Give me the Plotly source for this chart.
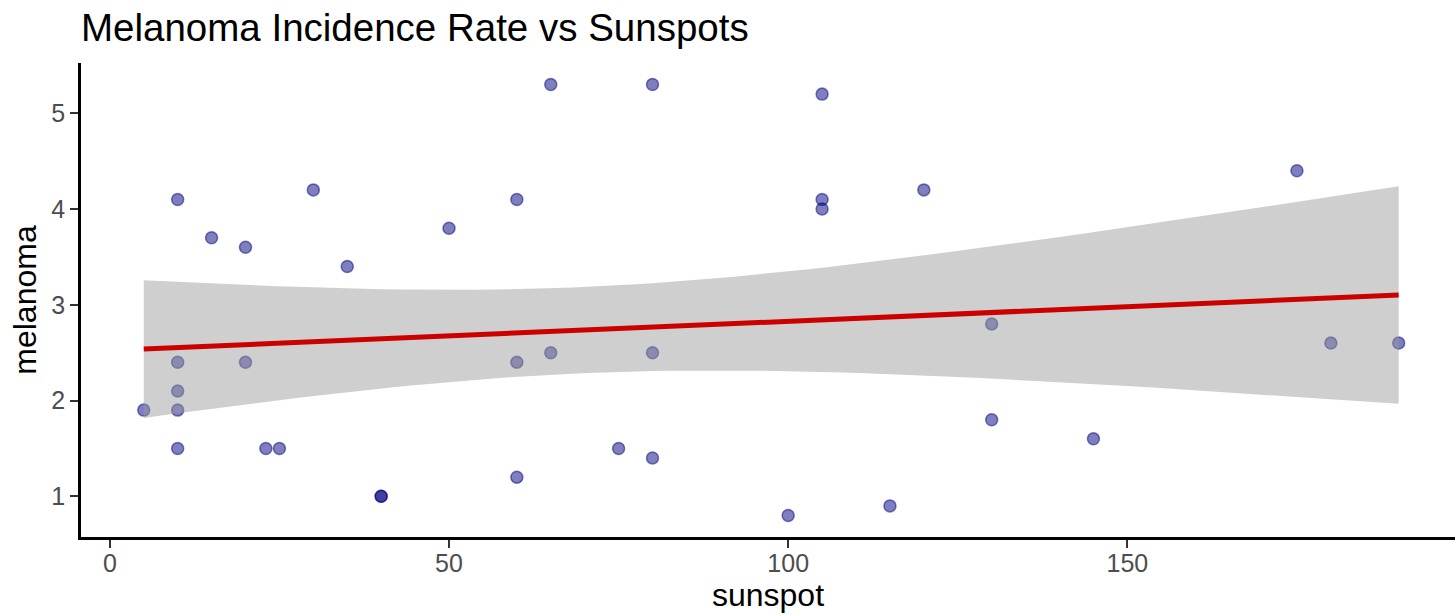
import numpy as np
import plotly.graph_objects as go

sunspot = [5, 10, 10, 10, 10, 10, 15, 20, 20, 23, 25, 30, 35, 40, 40, 50,
           60, 60, 60, 65, 65, 75, 80, 80, 80, 100, 105, 105, 105, 115, 120,
           130, 130, 145, 175, 180, 190]
melanoma = [1.9, 4.1, 2.4, 2.1, 1.9, 1.5, 3.7, 3.6, 2.4, 1.5, 1.5, 4.2, 3.4, 1.0, 1.0, 3.8,
            4.1, 2.4, 1.2, 5.3, 2.5, 1.5, 5.3, 2.5, 1.4, 0.8, 5.2, 4.1, 4.0, 0.9, 4.2,
            2.8, 1.8, 1.6, 4.4, 2.6, 2.6]
x_ticks = [0, 50, 100, 150]
y_ticks = [1, 2, 3, 4, 5]

# linear model fit with 95% confidence band (as geom_smooth(method="lm"))
x = np.array(sunspot, dtype=float)
y = np.array(melanoma, dtype=float)
n = len(x)
slope, intercept = np.polyfit(x, y, 1)
resid = y - (intercept + slope * x)
s = np.sqrt(np.sum(resid ** 2) / (n - 2))
t_crit = 2.0301  # t quantile 0.975, df = 35
xg = np.linspace(x.min(), x.max(), 80)
yg = intercept + slope * xg
se = s * np.sqrt(1.0 / n + (xg - x.mean()) ** 2 / np.sum((x - x.mean()) ** 2))
lo = yg - t_crit * se
hi = yg + t_crit * se

fig = go.Figure()
fig.add_trace(go.Scatter(
    x=sunspot, y=melanoma, mode="markers",
    marker=dict(size=12, color="rgba(0,0,128,0.5)",
                line=dict(color="rgba(0,0,128,0.5)", width=1.5)),
    showlegend=False, hoverinfo="skip"))
fig.add_trace(go.Scatter(
    x=np.concatenate([xg, xg[::-1]]), y=np.concatenate([hi, lo[::-1]]),
    fill="toself", fillcolor="rgba(153,153,153,0.47)", mode="lines",
    line=dict(width=0), showlegend=False, hoverinfo="skip"))
fig.add_trace(go.Scatter(
    x=xg, y=yg, mode="lines", line=dict(color="#CD0000", width=5),
    showlegend=False, hoverinfo="skip"))

fnt = "Liberation Sans, Arial, sans-serif"
fig.update_layout(
    width=1455, height=615,
    margin=dict(l=81, r=0, t=63, b=78),
    paper_bgcolor="white", plot_bgcolor="white",
    font=dict(family=fnt),
    title=dict(text="Melanoma Incidence Rate vs Sunspots",
               font=dict(size=38.5, color="black", family=fnt),
               xref="paper", x=0, xanchor="left",
               yref="container", y=1 - 28 / 615, yanchor="middle"),
    xaxis=dict(range=[-4.25, 198.3], tickvals=x_ticks, showgrid=False, zeroline=False,
               showline=True, linecolor="black", linewidth=2.5,
               ticks="outside", ticklen=8, tickwidth=2, tickcolor="#333333",
               tickfont=dict(size=25, color="#4D4D4D"), ticklabelstandoff=-6,
               title=dict(text="sunspot", font=dict(size=32, color="black"), standoff=0)),
    yaxis=dict(range=[0.575, 5.525], tickvals=y_ticks, showgrid=False, zeroline=False,
               showline=True, linecolor="black", linewidth=2.5,
               ticks="outside", ticklen=8, tickwidth=2, tickcolor="#333333",
               tickfont=dict(size=25, color="#4D4D4D"), ticklabelstandoff=0,
               title=dict(text="melanoma", font=dict(size=32, color="black"), standoff=6)),
)
fig.write_html("out.html")
